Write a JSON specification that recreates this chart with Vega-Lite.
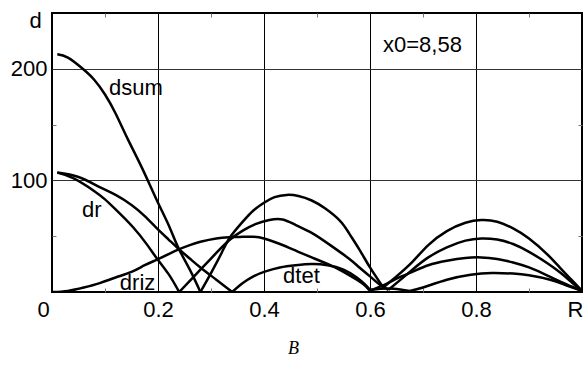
{
  "$schema": "https://vega.github.io/schema/vega-lite/v6.json",
  "width": 530,
  "height": 279,
  "autosize": {"type": "none"},
  "padding": {"left": 52, "top": 13, "right": 5, "bottom": 78},
  "background": "white",
  "config": {
    "view": {"stroke": "#000", "strokeWidth": 2},
    "axis": {"labelFont": "Liberation Sans", "titleFont": "Liberation Sans", "labelColor": "#000", "titleColor": "#000"}
  },
  "datasets": {
    "curves": [
      {"curve": "dsum", "lobe": "dsum1", "r": 0.01, "d": 213},
      {"curve": "dsum", "lobe": "dsum1", "r": 0.03, "d": 210},
      {"curve": "dsum", "lobe": "dsum1", "r": 0.058, "d": 200},
      {"curve": "dsum", "lobe": "dsum1", "r": 0.08, "d": 190},
      {"curve": "dsum", "lobe": "dsum1", "r": 0.1, "d": 177},
      {"curve": "dsum", "lobe": "dsum1", "r": 0.12, "d": 160},
      {"curve": "dsum", "lobe": "dsum1", "r": 0.143, "d": 137},
      {"curve": "dsum", "lobe": "dsum1", "r": 0.17, "d": 111},
      {"curve": "dsum", "lobe": "dsum1", "r": 0.198, "d": 82},
      {"curve": "dsum", "lobe": "dsum1", "r": 0.22, "d": 60},
      {"curve": "dsum", "lobe": "dsum1", "r": 0.238, "d": 40},
      {"curve": "dsum", "lobe": "dsum1", "r": 0.26, "d": 20},
      {"curve": "dsum", "lobe": "dsum1", "r": 0.28, "d": 0},
      {"curve": "dsum", "lobe": "dsum2", "r": 0.28, "d": 0},
      {"curve": "dsum", "lobe": "dsum2", "r": 0.3, "d": 17},
      {"curve": "dsum", "lobe": "dsum2", "r": 0.32, "d": 35},
      {"curve": "dsum", "lobe": "dsum2", "r": 0.336, "d": 49},
      {"curve": "dsum", "lobe": "dsum2", "r": 0.36, "d": 63},
      {"curve": "dsum", "lobe": "dsum2", "r": 0.38, "d": 73},
      {"curve": "dsum", "lobe": "dsum2", "r": 0.4, "d": 80},
      {"curve": "dsum", "lobe": "dsum2", "r": 0.42, "d": 85},
      {"curve": "dsum", "lobe": "dsum2", "r": 0.443, "d": 87},
      {"curve": "dsum", "lobe": "dsum2", "r": 0.465, "d": 86},
      {"curve": "dsum", "lobe": "dsum2", "r": 0.49, "d": 82},
      {"curve": "dsum", "lobe": "dsum2", "r": 0.515, "d": 75},
      {"curve": "dsum", "lobe": "dsum2", "r": 0.543, "d": 64},
      {"curve": "dsum", "lobe": "dsum2", "r": 0.56, "d": 53},
      {"curve": "dsum", "lobe": "dsum2", "r": 0.58, "d": 38},
      {"curve": "dsum", "lobe": "dsum2", "r": 0.6, "d": 22},
      {"curve": "dsum", "lobe": "dsum2", "r": 0.625, "d": 4},
      {"curve": "dsum", "lobe": "dsum3", "r": 0.625, "d": 4},
      {"curve": "dsum", "lobe": "dsum3", "r": 0.65, "d": 14},
      {"curve": "dsum", "lobe": "dsum3", "r": 0.68, "d": 27},
      {"curve": "dsum", "lobe": "dsum3", "r": 0.71, "d": 42},
      {"curve": "dsum", "lobe": "dsum3", "r": 0.745, "d": 54.5},
      {"curve": "dsum", "lobe": "dsum3", "r": 0.78, "d": 62},
      {"curve": "dsum", "lobe": "dsum3", "r": 0.81, "d": 64.5},
      {"curve": "dsum", "lobe": "dsum3", "r": 0.84, "d": 63},
      {"curve": "dsum", "lobe": "dsum3", "r": 0.87, "d": 57},
      {"curve": "dsum", "lobe": "dsum3", "r": 0.9, "d": 48},
      {"curve": "dsum", "lobe": "dsum3", "r": 0.934, "d": 34},
      {"curve": "dsum", "lobe": "dsum3", "r": 0.96, "d": 21},
      {"curve": "dsum", "lobe": "dsum3", "r": 0.98, "d": 11},
      {"curve": "dsum", "lobe": "dsum3", "r": 1.0, "d": 1},
      {"curve": "dr", "lobe": "dr1", "r": 0.01, "d": 107},
      {"curve": "dr", "lobe": "dr1", "r": 0.04, "d": 102},
      {"curve": "dr", "lobe": "dr1", "r": 0.078, "d": 91},
      {"curve": "dr", "lobe": "dr1", "r": 0.1, "d": 83},
      {"curve": "dr", "lobe": "dr1", "r": 0.12, "d": 74},
      {"curve": "dr", "lobe": "dr1", "r": 0.153, "d": 58},
      {"curve": "dr", "lobe": "dr1", "r": 0.18, "d": 42},
      {"curve": "dr", "lobe": "dr1", "r": 0.198, "d": 30},
      {"curve": "dr", "lobe": "dr1", "r": 0.22, "d": 16},
      {"curve": "dr", "lobe": "dr1", "r": 0.24, "d": 0},
      {"curve": "dr", "lobe": "dr2", "r": 0.24, "d": 0},
      {"curve": "dr", "lobe": "dr2", "r": 0.26, "d": 10},
      {"curve": "dr", "lobe": "dr2", "r": 0.28, "d": 20},
      {"curve": "dr", "lobe": "dr2", "r": 0.31, "d": 35},
      {"curve": "dr", "lobe": "dr2", "r": 0.336, "d": 47},
      {"curve": "dr", "lobe": "dr2", "r": 0.36, "d": 55},
      {"curve": "dr", "lobe": "dr2", "r": 0.385, "d": 61},
      {"curve": "dr", "lobe": "dr2", "r": 0.41, "d": 64.5},
      {"curve": "dr", "lobe": "dr2", "r": 0.435, "d": 65},
      {"curve": "dr", "lobe": "dr2", "r": 0.46, "d": 60},
      {"curve": "dr", "lobe": "dr2", "r": 0.49, "d": 53},
      {"curve": "dr", "lobe": "dr2", "r": 0.525, "d": 42},
      {"curve": "dr", "lobe": "dr2", "r": 0.56, "d": 30},
      {"curve": "dr", "lobe": "dr2", "r": 0.58, "d": 22},
      {"curve": "dr", "lobe": "dr2", "r": 0.6, "d": 14},
      {"curve": "dr", "lobe": "dr2", "r": 0.62, "d": 6},
      {"curve": "dr", "lobe": "dr2", "r": 0.635, "d": 2},
      {"curve": "dr", "lobe": "dr3", "r": 0.635, "d": 2},
      {"curve": "dr", "lobe": "dr3", "r": 0.655, "d": 10},
      {"curve": "dr", "lobe": "dr3", "r": 0.68, "d": 20},
      {"curve": "dr", "lobe": "dr3", "r": 0.71, "d": 31},
      {"curve": "dr", "lobe": "dr3", "r": 0.745, "d": 40},
      {"curve": "dr", "lobe": "dr3", "r": 0.78, "d": 46},
      {"curve": "dr", "lobe": "dr3", "r": 0.81, "d": 48},
      {"curve": "dr", "lobe": "dr3", "r": 0.84, "d": 47},
      {"curve": "dr", "lobe": "dr3", "r": 0.87, "d": 43},
      {"curve": "dr", "lobe": "dr3", "r": 0.9, "d": 36},
      {"curve": "dr", "lobe": "dr3", "r": 0.934, "d": 26},
      {"curve": "dr", "lobe": "dr3", "r": 0.96, "d": 17},
      {"curve": "dr", "lobe": "dr3", "r": 0.98, "d": 9},
      {"curve": "dr", "lobe": "dr3", "r": 1.0, "d": 1},
      {"curve": "dtet", "lobe": "dtet1", "r": 0.01, "d": 107},
      {"curve": "dtet", "lobe": "dtet1", "r": 0.05, "d": 103},
      {"curve": "dtet", "lobe": "dtet1", "r": 0.09, "d": 94},
      {"curve": "dtet", "lobe": "dtet1", "r": 0.12, "d": 87},
      {"curve": "dtet", "lobe": "dtet1", "r": 0.15, "d": 78},
      {"curve": "dtet", "lobe": "dtet1", "r": 0.175, "d": 68},
      {"curve": "dtet", "lobe": "dtet1", "r": 0.198, "d": 57},
      {"curve": "dtet", "lobe": "dtet1", "r": 0.22, "d": 47},
      {"curve": "dtet", "lobe": "dtet1", "r": 0.238, "d": 39},
      {"curve": "dtet", "lobe": "dtet1", "r": 0.26, "d": 30},
      {"curve": "dtet", "lobe": "dtet1", "r": 0.28, "d": 22},
      {"curve": "dtet", "lobe": "dtet1", "r": 0.31, "d": 11},
      {"curve": "dtet", "lobe": "dtet1", "r": 0.34, "d": 0},
      {"curve": "dtet", "lobe": "dtet2", "r": 0.34, "d": 0},
      {"curve": "dtet", "lobe": "dtet2", "r": 0.36, "d": 8},
      {"curve": "dtet", "lobe": "dtet2", "r": 0.38, "d": 14},
      {"curve": "dtet", "lobe": "dtet2", "r": 0.4, "d": 18},
      {"curve": "dtet", "lobe": "dtet2", "r": 0.43, "d": 22},
      {"curve": "dtet", "lobe": "dtet2", "r": 0.46, "d": 24},
      {"curve": "dtet", "lobe": "dtet2", "r": 0.49, "d": 25},
      {"curve": "dtet", "lobe": "dtet2", "r": 0.52, "d": 24},
      {"curve": "dtet", "lobe": "dtet2", "r": 0.55, "d": 20},
      {"curve": "dtet", "lobe": "dtet2", "r": 0.575, "d": 13},
      {"curve": "dtet", "lobe": "dtet2", "r": 0.59, "d": 7},
      {"curve": "dtet", "lobe": "dtet2", "r": 0.6, "d": 2},
      {"curve": "dtet", "lobe": "dtet3", "r": 0.6, "d": 2},
      {"curve": "dtet", "lobe": "dtet3", "r": 0.62, "d": 3},
      {"curve": "dtet", "lobe": "dtet3", "r": 0.645, "d": 3},
      {"curve": "dtet", "lobe": "dtet3", "r": 0.675, "d": 1},
      {"curve": "dtet", "lobe": "dtet4", "r": 0.675, "d": 1},
      {"curve": "dtet", "lobe": "dtet4", "r": 0.7, "d": 4},
      {"curve": "dtet", "lobe": "dtet4", "r": 0.745, "d": 11},
      {"curve": "dtet", "lobe": "dtet4", "r": 0.79, "d": 15.5},
      {"curve": "dtet", "lobe": "dtet4", "r": 0.83, "d": 17},
      {"curve": "dtet", "lobe": "dtet4", "r": 0.87, "d": 16.5},
      {"curve": "dtet", "lobe": "dtet4", "r": 0.9, "d": 15},
      {"curve": "dtet", "lobe": "dtet4", "r": 0.94, "d": 11},
      {"curve": "dtet", "lobe": "dtet4", "r": 0.97, "d": 6},
      {"curve": "dtet", "lobe": "dtet4", "r": 1.0, "d": 1},
      {"curve": "driz", "lobe": "driz1", "r": 0.0, "d": 0},
      {"curve": "driz", "lobe": "driz1", "r": 0.03, "d": 1},
      {"curve": "driz", "lobe": "driz1", "r": 0.06, "d": 4},
      {"curve": "driz", "lobe": "driz1", "r": 0.09, "d": 8},
      {"curve": "driz", "lobe": "driz1", "r": 0.12, "d": 13},
      {"curve": "driz", "lobe": "driz1", "r": 0.15, "d": 18},
      {"curve": "driz", "lobe": "driz1", "r": 0.175, "d": 24},
      {"curve": "driz", "lobe": "driz1", "r": 0.198, "d": 29},
      {"curve": "driz", "lobe": "driz1", "r": 0.22, "d": 34},
      {"curve": "driz", "lobe": "driz1", "r": 0.238, "d": 38},
      {"curve": "driz", "lobe": "driz1", "r": 0.26, "d": 42},
      {"curve": "driz", "lobe": "driz1", "r": 0.28, "d": 45},
      {"curve": "driz", "lobe": "driz1", "r": 0.31, "d": 48},
      {"curve": "driz", "lobe": "driz1", "r": 0.336, "d": 49},
      {"curve": "driz", "lobe": "driz1", "r": 0.36, "d": 49.5},
      {"curve": "driz", "lobe": "driz1", "r": 0.38, "d": 49.5},
      {"curve": "driz", "lobe": "driz1", "r": 0.4, "d": 48},
      {"curve": "driz", "lobe": "driz1", "r": 0.43, "d": 43},
      {"curve": "driz", "lobe": "driz1", "r": 0.46, "d": 37},
      {"curve": "driz", "lobe": "driz1", "r": 0.49, "d": 31},
      {"curve": "driz", "lobe": "driz1", "r": 0.525, "d": 24},
      {"curve": "driz", "lobe": "driz1", "r": 0.55, "d": 18},
      {"curve": "driz", "lobe": "driz1", "r": 0.575, "d": 11},
      {"curve": "driz", "lobe": "driz1", "r": 0.59, "d": 6},
      {"curve": "driz", "lobe": "driz1", "r": 0.6, "d": 1},
      {"curve": "driz", "lobe": "driz2", "r": 0.6, "d": 1},
      {"curve": "driz", "lobe": "driz2", "r": 0.63, "d": 7},
      {"curve": "driz", "lobe": "driz2", "r": 0.655, "d": 13},
      {"curve": "driz", "lobe": "driz2", "r": 0.68, "d": 18},
      {"curve": "driz", "lobe": "driz2", "r": 0.71, "d": 24},
      {"curve": "driz", "lobe": "driz2", "r": 0.745, "d": 28},
      {"curve": "driz", "lobe": "driz2", "r": 0.78, "d": 30.5},
      {"curve": "driz", "lobe": "driz2", "r": 0.81, "d": 31},
      {"curve": "driz", "lobe": "driz2", "r": 0.84, "d": 29.5},
      {"curve": "driz", "lobe": "driz2", "r": 0.87, "d": 26.5},
      {"curve": "driz", "lobe": "driz2", "r": 0.9, "d": 22},
      {"curve": "driz", "lobe": "driz2", "r": 0.934, "d": 15},
      {"curve": "driz", "lobe": "driz2", "r": 0.96, "d": 9},
      {"curve": "driz", "lobe": "driz2", "r": 0.98, "d": 5},
      {"curve": "driz", "lobe": "driz2", "r": 1.0, "d": 1}
    ],
    "labels": [
      {"text": "dsum", "r": 0.1075, "d": 176.5},
      {"text": "dr", "r": 0.0566, "d": 67.2},
      {"text": "driz", "r": 0.128, "d": 1.8},
      {"text": "dtet", "r": 0.436, "d": 8.1},
      {"text": "x0=8,58", "r": 0.6245, "d": 215}
    ]
  },
  "layer": [
    {
      "data": {"name": "curves"},
      "mark": {"type": "line", "interpolate": "natural", "color": "#000", "strokeWidth": 2.5, "clip": true},
      "encoding": {
        "x": {
          "field": "r", "type": "quantitative",
          "scale": {"domain": [0, 1], "nice": false, "zero": false},
          "axis": {
            "orient": "bottom",
            "values": [0, 0.1, 0.2, 0.3, 0.4, 0.5, 0.6, 0.7, 0.8, 0.9, 1],
            "domain": false,
            "grid": true,
            "gridColor": {"condition": {"test": "datum.value == 0.2 || datum.value == 0.4 || datum.value == 0.6 || datum.value == 0.8", "value": "#000"}, "value": "transparent"},
            "gridWidth": 1,
            "gridOpacity": 1,
            "ticks": true,
            "tickSize": -4,
            "tickWidth": 1,
            "tickColor": {"condition": {"test": "datum.value == 0.1 || datum.value == 0.3 || datum.value == 0.5 || datum.value == 0.7 || datum.value == 0.9", "value": "#777"}, "value": "transparent"},
            "labelExpr": "datum.value == 1 ? 'R' : (datum.value == 0 ? '0' : (datum.value == 0.2 || datum.value == 0.4 || datum.value == 0.6 || datum.value == 0.8) ? datum.label : '')",
            "labelFontSize": 22,
            "labelOverlap": false,
            "labelFlush": false,
            "labelBound": false,
            "labelPadding": 11,
            "labelOffset": {"condition": [{"test": "datum.value == 0", "value": -9}, {"test": "datum.value == 1", "value": -7}], "value": 0},
            "title": "B",
            "titleFont": "Liberation Serif",
            "titleFontStyle": "italic",
            "titleFontWeight": "normal",
            "titleFontSize": 18,
            "titleX": 241,
            "titleY": 56,
            "titleAlign": "center",
            "titleBaseline": "middle",
            "titleAnchor": null
          }
        },
        "y": {
          "field": "d", "type": "quantitative",
          "scale": {"domain": [0, 250], "nice": false},
          "axis": {
            "orient": "left",
            "values": [0, 50, 100, 150, 200, 250],
            "domain": false,
            "grid": true,
            "gridColor": {"condition": {"test": "datum.value == 100 || datum.value == 200", "value": "#333"}, "value": "transparent"},
            "gridWidth": 1,
            "gridOpacity": 1,
            "ticks": true,
            "tickSize": -4,
            "tickWidth": 1,
            "tickColor": {"condition": {"test": "datum.value == 50 || datum.value == 150", "value": "#777"}, "value": "transparent"},
            "labelExpr": "(datum.value == 100 || datum.value == 200) ? datum.label : ''",
            "labelFontSize": 22,
            "labelOverlap": false,
            "labelFlush": false,
            "labelBound": false,
            "labelPadding": 9,
            "title": "d",
            "titleFontSize": 22,
            "titleFontWeight": "normal",
            "titleAngle": 0,
            "titleX": -17,
            "titleY": 7,
            "titleAlign": "center",
            "titleBaseline": "middle",
            "titleAnchor": null
          }
        },
        "detail": {"field": "lobe", "type": "nominal"}
      }
    },
    {
      "data": {"name": "labels"},
      "mark": {"type": "text", "align": "left", "baseline": "alphabetic", "font": "Liberation Sans", "fontSize": 22, "color": "#000"},
      "encoding": {
        "x": {
          "field": "r", "type": "quantitative",
          "axis": {"orient": "top", "values": [0.1, 0.3, 0.5, 0.7, 0.9], "domain": false, "grid": false, "labels": false, "ticks": true, "tickSize": -4, "tickWidth": 1, "tickColor": "#777", "title": null}
        },
        "y": {
          "field": "d", "type": "quantitative",
          "axis": {"orient": "right", "values": [50, 150], "domain": false, "grid": false, "labels": false, "ticks": true, "tickSize": -4, "tickWidth": 1, "tickColor": "#777", "title": null}
        },
        "text": {"field": "text", "type": "nominal"}
      }
    }
  ],
  "resolve": {"axis": {"x": "independent", "y": "independent"}}
}
